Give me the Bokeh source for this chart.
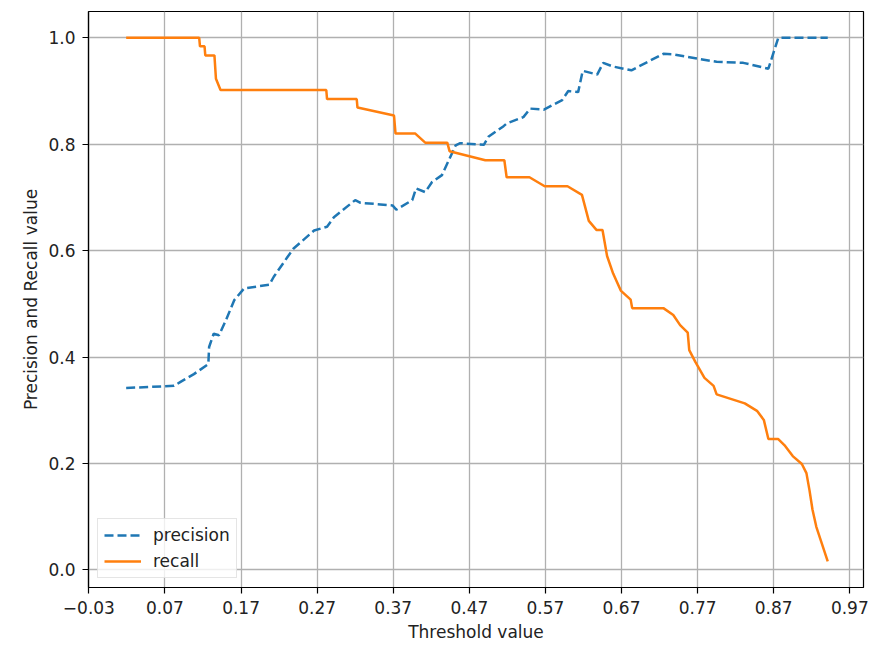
from bokeh.plotting import figure
from bokeh.models import FixedTicker, Legend, LegendItem, Range1d
from bokeh.embed import file_html
from bokeh.resources import INLINE

# ---- data ----
prec_thr = [0.019, 0.082, 0.091, 0.108, 0.127, 0.128, 0.134, 0.141, 0.150, 0.161,
            0.174, 0.207, 0.213, 0.231, 0.239, 0.266, 0.283, 0.292, 0.320, 0.327,
            0.353, 0.369, 0.374, 0.395, 0.400, 0.412, 0.421, 0.434, 0.443, 0.452,
            0.458, 0.489, 0.495, 0.515, 0.519, 0.541, 0.550, 0.568, 0.592, 0.600,
            0.613, 0.619, 0.638, 0.646, 0.659, 0.683, 0.725, 0.738, 0.769, 0.795,
            0.830, 0.863, 0.876, 0.941]
precision = [0.342, 0.346, 0.354, 0.368, 0.387, 0.419, 0.444, 0.441, 0.469, 0.507,
             0.529, 0.536, 0.551, 0.588, 0.604, 0.638, 0.645, 0.663, 0.695, 0.690,
             0.687, 0.685, 0.677, 0.695, 0.717, 0.710, 0.729, 0.742, 0.770, 0.798,
             0.802, 0.799, 0.814, 0.834, 0.839, 0.851, 0.867, 0.865, 0.883, 0.900,
             0.898, 0.938, 0.931, 0.953, 0.946, 0.939, 0.970, 0.969, 0.961, 0.955,
             0.953, 0.942, 1.0, 1.0]

rec_thr = [0.019, 0.115, 0.116, 0.122, 0.123, 0.135, 0.137, 0.143, 0.282, 0.283,
           0.322, 0.323, 0.371, 0.373, 0.399, 0.412, 0.441, 0.444, 0.491, 0.516,
           0.519, 0.549, 0.569, 0.599, 0.618, 0.627, 0.637, 0.645, 0.651, 0.659,
           0.669, 0.682, 0.684, 0.725, 0.738, 0.747, 0.757, 0.759, 0.767, 0.779,
           0.791, 0.795, 0.832, 0.848, 0.857, 0.863, 0.876, 0.885, 0.895, 0.907,
           0.913, 0.917, 0.921, 0.926, 0.941]
recall = [1.0, 1.0, 0.984, 0.984, 0.967, 0.967, 0.923, 0.902, 0.902, 0.885,
          0.885, 0.869, 0.854, 0.820, 0.820, 0.803, 0.803, 0.787, 0.770, 0.770,
          0.738, 0.738, 0.721, 0.721, 0.705, 0.656, 0.639, 0.639, 0.590, 0.557,
          0.525, 0.508, 0.492, 0.492, 0.479, 0.460, 0.446, 0.413, 0.391, 0.361,
          0.346, 0.330, 0.313, 0.299, 0.282, 0.246, 0.246, 0.233, 0.214, 0.199,
          0.182, 0.150, 0.113, 0.081, 0.016]

x_ticks = [-0.03, 0.07, 0.17, 0.27, 0.37, 0.47, 0.57, 0.67, 0.77, 0.87, 0.97]
x_tick_labels = ["\u22120.03", "0.07", "0.17", "0.27", "0.37", "0.47", "0.57",
                 "0.67", "0.77", "0.87", "0.97"]
y_ticks = [0.0, 0.2, 0.4, 0.6, 0.8, 1.0]
y_tick_labels = ["0.0", "0.2", "0.4", "0.6", "0.8", "1.0"]

FONT = "DejaVu Sans"
FS = "17px"

p = figure(width=882, height=645, output_backend="svg", toolbar_location=None,
           x_range=Range1d(-0.0305, 0.988), y_range=Range1d(-0.033, 1.0495),
           min_border_left=88, min_border_right=19, min_border_top=11,
           min_border_bottom=58)

p.outline_line_color = "black"
p.outline_line_width = 1.2
p.outline_line_alpha = 1.0
p.background_fill_color = "white"
p.border_fill_color = "white"

for ax in (p.xaxis[0], p.yaxis[0]):
    ax.axis_line_color = "black"
    ax.axis_line_width = 1.2
    ax.major_tick_out = 6
    ax.major_tick_in = 0
    ax.major_tick_line_width = 1.2
    ax.minor_tick_out = 0
    ax.minor_tick_in = 0
    ax.major_label_text_font = FONT
    ax.major_label_text_font_size = FS
    ax.major_label_text_color = "#222222"
    ax.axis_label_text_font = FONT
    ax.axis_label_text_font_size = FS
    ax.axis_label_text_font_style = "normal"
    ax.axis_label_text_color = "#222222"

p.xaxis[0].ticker = FixedTicker(ticks=x_ticks)
p.xaxis[0].major_label_overrides = dict(zip(x_ticks, x_tick_labels))
p.yaxis[0].ticker = FixedTicker(ticks=y_ticks)
p.yaxis[0].major_label_overrides = dict(zip(y_ticks, y_tick_labels))
p.xaxis[0].major_label_standoff = 7
p.yaxis[0].major_label_standoff = 7
p.xaxis[0].axis_label = "Threshold value"
p.yaxis[0].axis_label = "Precision and Recall value"
p.xaxis[0].axis_label_standoff = 5
p.yaxis[0].axis_label_standoff = 4

p.xgrid[0].ticker = FixedTicker(ticks=x_ticks)
p.ygrid[0].ticker = FixedTicker(ticks=y_ticks)
for g in (p.xgrid[0], p.ygrid[0]):
    g.grid_line_color = "#b0b0b0"
    g.grid_line_width = 1.3
    g.grid_line_alpha = 1.0

r1 = p.line(prec_thr, precision, line_color="#1f77b4", line_width=2.5,
            line_dash="9 4")
r2 = p.line(rec_thr, recall, line_color="#ff7f0e", line_width=2.5)

legend = Legend(items=[LegendItem(label="precision", renderers=[r1]),
                       LegendItem(label="recall", renderers=[r2])],
                location="bottom_left")
legend.margin = 9
legend.padding = 6
legend.spacing = 6
legend.glyph_width = 37
legend.glyph_height = 20
legend.label_height = 20
legend.label_standoff = 12
legend.label_text_font = FONT
legend.label_text_font_size = FS
legend.label_text_color = "#222222"
legend.border_line_color = "#cccccc"
legend.border_line_width = 1
legend.background_fill_alpha = 0.8
p.add_layout(legend)

open("out.html", "w").write(file_html(p, INLINE))
